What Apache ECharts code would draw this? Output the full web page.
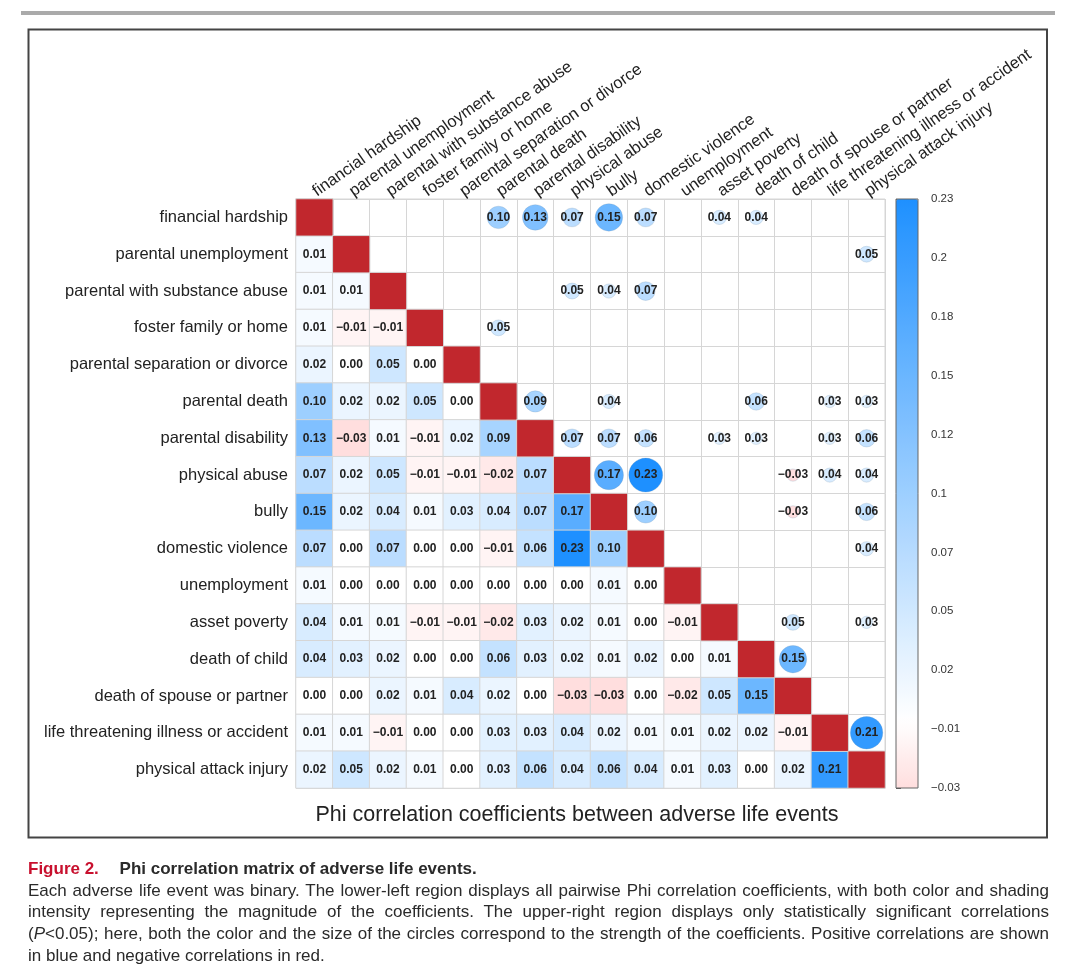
<!DOCTYPE html>
<html>
<head>
<meta charset="utf-8">
<script src="https://cdn.jsdelivr.net/npm/echarts@6/dist/echarts.min.js"></script>
<style>
  html, body { margin:0; padding:0; background:#fff; }
  #chart { position:absolute; left:0; top:0; width:1080px; height:980px; }
  #caption { position:absolute; left:28px; top:858px; width:1021px; font-family:"Liberation Sans", Arial, sans-serif; font-size:17px; color:#2a2a2a; line-height:21.7px; }
  #caption .ln { white-space:nowrap; display:block; }
  #caption .ln span { display:inline-block; white-space:nowrap; transform-origin:left center; }
  #caption .hd { font-weight:bold; white-space:nowrap; }
  #caption .fig { color:#c8102e; font-weight:bold; margin-right:16px; }
</style>
</head>
<body>
<div id="chart"></div>
<div id="caption">
  <div class="hd"><span class="fig">Figure 2.</span> Phi correlation matrix of adverse life events.</div>
  <div class="ln just"><span>Each adverse life event was binary. The lower-left region displays all pairwise Phi correlation coefficients, with both color and shading</span></div>
  <div class="ln just"><span>intensity representing the magnitude of the coefficients. The upper-right region displays only statistically significant correlations</span></div>
  <div class="ln just"><span>(<i>P</i>&lt;0.05); here, both the color and the size of the circles correspond to the strength of the coefficients. Positive correlations are shown</span></div>
  <div class="ln"><span>in blue and negative correlations in red.</span></div>
</div>
<script>
const events = [
  'financial hardship', 'parental unemployment', 'parental with substance abuse',
  'foster family or home', 'parental separation or divorce', 'parental death',
  'parental disability', 'physical abuse', 'bully', 'domestic violence',
  'unemployment', 'asset poverty', 'death of child', 'death of spouse or partner',
  'life threatening illness or accident', 'physical attack injury'
];

// lower triangle: row i holds correlations with columns 0..i-1
const lowerRows = [
  [],
  [0.01],
  [0.01, 0.01],
  [0.01, -0.01, -0.01],
  [0.02, 0.00, 0.05, 0.00],
  [0.10, 0.02, 0.02, 0.05, 0.00],
  [0.13, -0.03, 0.01, -0.01, 0.02, 0.09],
  [0.07, 0.02, 0.05, -0.01, -0.01, -0.02, 0.07],
  [0.15, 0.02, 0.04, 0.01, 0.03, 0.04, 0.07, 0.17],
  [0.07, 0.00, 0.07, 0.00, 0.00, -0.01, 0.06, 0.23, 0.10],
  [0.01, 0.00, 0.00, 0.00, 0.00, 0.00, 0.00, 0.00, 0.01, 0.00],
  [0.04, 0.01, 0.01, -0.01, -0.01, -0.02, 0.03, 0.02, 0.01, 0.00, -0.01],
  [0.04, 0.03, 0.02, 0.00, 0.00, 0.06, 0.03, 0.02, 0.01, 0.02, 0.00, 0.01],
  [0.00, 0.00, 0.02, 0.01, 0.04, 0.02, 0.00, -0.03, -0.03, 0.00, -0.02, 0.05, 0.15],
  [0.01, 0.01, -0.01, 0.00, 0.00, 0.03, 0.03, 0.04, 0.02, 0.01, 0.01, 0.02, 0.02, -0.01],
  [0.02, 0.05, 0.02, 0.01, 0.00, 0.03, 0.06, 0.04, 0.06, 0.04, 0.01, 0.03, 0.00, 0.02, 0.21]
];

// significant pairs (row, column) shown in the upper-right region
const significantPairs = [
  [0,5],[0,6],[0,7],[0,8],[0,9],[0,11],[0,12],
  [1,15],
  [2,7],[2,8],[2,9],
  [3,5],
  [5,6],[5,8],[5,12],[5,14],[5,15],
  [6,7],[6,8],[6,9],[6,11],[6,12],[6,14],[6,15],
  [7,8],[7,9],[7,13],[7,14],[7,15],
  [8,9],[8,13],[8,15],
  [9,15],
  [11,13],[11,15],
  [12,13],
  [14,15]
];

const colorbarTicks = ['\u22120.03','\u22120.01','0.02','0.05','0.07','0.1','0.12','0.15','0.18','0.2','0.23'];
const colorMin = -0.03, colorMax = 0.23;

function colorOf(v) {
  const t = Math.min(1, Math.abs(v) / 0.23);
  let r, g, b;
  if (v >= 0) { r = 255 - 225 * t; g = 255 - 111 * t; b = 255; }
  else { r = 255; g = 255 - 255 * t; b = 255 - 255 * t; }
  return 'rgb(' + Math.round(r) + ',' + Math.round(g) + ',' + Math.round(b) + ')';
}
const stops = [];
for (let k = 0; k <= 26; k++) stops.push(colorOf(colorMin + k * 0.01));

function fmt(v) {
  const s = Math.abs(v).toFixed(2);
  return (v < 0 ? '\u2212' : '') + s;
}

const lowerData = [];
lowerRows.forEach((row, i) => row.forEach((v, j) => lowerData.push([j, i, v])));
const diagData = events.map((_, i) => [i, i, 1]);
const upperData = significantPairs.map(([r, c]) => [c, r, lowerRows[c][r]]);

const FONT = '"Liberation Sans", Arial, Helvetica, sans-serif';
const GX = 296, GY = 199, GW = 589, GH = 589;

const chart = echarts.init(document.getElementById('chart'));
chart.setOption({
  animation: false,
  textStyle: { fontFamily: FONT },
  grid: [
    { left: GX, top: GY, width: GW, height: GH, show: true, borderColor: '#d6d6d6', borderWidth: 1, backgroundColor: '#fff' },
    { left: 896, top: GY, width: 22, height: GH, show: true, borderColor: '#666', borderWidth: 1, backgroundColor: 'transparent', z: 10 }
  ],
  xAxis: [
    { type: 'category', gridIndex: 0, data: events, position: 'top',
      axisLine: { show: false }, axisTick: { show: false },
      axisLabel: { rotate: -35, fontSize: 16.5, color: '#222', margin: 6, interval: 0 },
      splitLine: { show: true, interval: 0, lineStyle: { color: '#d6d6d6', width: 1 } } },
    { type: 'value', gridIndex: 1, show: false }
  ],
  yAxis: [
    { type: 'category', gridIndex: 0, data: events, inverse: true,
      axisLine: { show: false }, axisTick: { show: false },
      axisLabel: { fontSize: 16.5, color: '#222', margin: 8, interval: 0 },
      splitLine: { show: true, interval: 0, lineStyle: { color: '#d6d6d6', width: 1 } } },
    { type: 'category', gridIndex: 1, data: colorbarTicks, boundaryGap: false, position: 'right',
      axisLine: { show: false },
      axisTick: { show: true, length: 5, lineStyle: { color: '#555' } },
      axisLabel: { fontSize: 11.5, color: '#333', margin: 13, interval: 0 },
      splitLine: { show: false } }
  ],
  visualMap: {
    type: 'continuous', min: colorMin, max: colorMax, dimension: 2,
    seriesIndex: [0, 2], calculable: false, hoverLink: false,
    inRange: { color: stops },
    left: 896, top: GY, itemWidth: 22, itemHeight: GH, padding: 0
  },
  series: [
    { type: 'heatmap', xAxisIndex: 0, yAxisIndex: 0, data: lowerData,
      itemStyle: { borderColor: '#d6d6d6', borderWidth: 1 },
      label: { show: true, formatter: p => fmt(p.value[2]), fontSize: 12, fontWeight: 'bold', color: '#222' } },
    { type: 'heatmap', xAxisIndex: 0, yAxisIndex: 0, data: diagData,
      itemStyle: { color: '#c1272d', borderColor: '#d6d6d6', borderWidth: 1 },
      label: { show: false } },
    { type: 'scatter', xAxisIndex: 0, yAxisIndex: 0, data: upperData,
      symbol: 'circle',
      symbolSize: v => 34 * Math.sqrt(Math.abs(v[2]) / 0.23),
      itemStyle: { opacity: 1, borderColor: 'rgba(120,150,180,0.25)', borderWidth: 1 },
      label: { show: true, position: 'inside', formatter: p => fmt(p.value[2]), fontSize: 12, fontWeight: 'bold', color: '#222' } }
  ],
  graphic: [
    { type: 'rect', shape: { x: 21, y: 11, width: 1034, height: 4 }, style: { fill: '#aaaaaa' }, silent: true },
    { type: 'rect', shape: { x: 28.5, y: 29.5, width: 1018.5, height: 808 }, style: { fill: 'none', stroke: '#444', lineWidth: 2 }, silent: true },
    { type: 'text', x: 577, y: 815, style: { text: 'Phi correlation coefficients between adverse life events', fontSize: 21.5, fill: '#222', textAlign: 'center', textVerticalAlign: 'middle', fontFamily: FONT }, silent: true }
  ]
});

// fit each caption line to the full column width (justified like the reference)
const W = 1021;
document.querySelectorAll('#caption .ln.just span').forEach(sp => {
  const w = sp.getBoundingClientRect().width;
  const spaces = (sp.textContent.match(/ /g) || []).length;
  if (w > W) {
    sp.style.transform = 'scaleX(' + (W / w) + ')';
  } else if (spaces > 0) {
    sp.style.wordSpacing = ((W - w) / spaces) + 'px';
  }
});
</script>
</body>
</html>
